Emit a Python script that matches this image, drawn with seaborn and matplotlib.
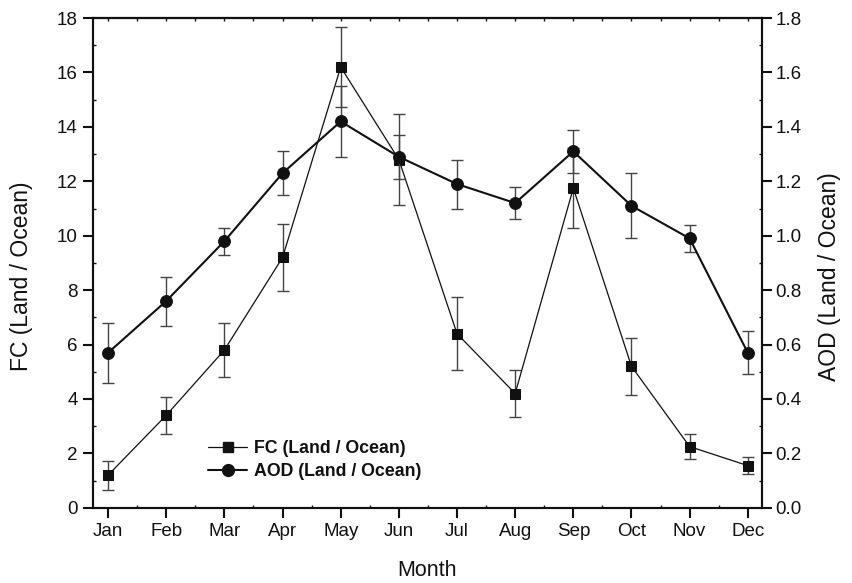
import numpy as np
import pandas as pd
import matplotlib
matplotlib.use("Agg")
import matplotlib.pyplot as plt
import seaborn as sns
from matplotlib.ticker import MultipleLocator, FormatStrFormatter
from matplotlib.lines import Line2D

# data
months = ["Jan", "Feb", "Mar", "Apr", "May", "Jun",
          "Jul", "Aug", "Sep", "Oct", "Nov", "Dec"]
fc = [1.2, 3.4, 5.8, 9.2, 16.2, 12.8, 6.4, 4.2, 11.75, 5.2, 2.25, 1.55]
fc_err = [0.53, 0.68, 0.98, 1.22, 1.47, 1.68, 1.34, 0.85, 1.47, 1.04, 0.45, 0.3]
aod = [0.57, 0.76, 0.98, 1.23, 1.42, 1.29, 1.19, 1.12, 1.31, 1.11, 0.99, 0.57]
aod_err = [0.11, 0.09, 0.05, 0.08, 0.13, 0.08, 0.09, 0.06, 0.08, 0.12, 0.05, 0.08]

df = pd.DataFrame({"idx": np.arange(len(months)), "month": months,
                   "fc": fc, "fc_err": fc_err, "aod": aod, "aod_err": aod_err})

sns.set_style("ticks")
plt.rcParams['font.family'] = ['Liberation Sans', 'DejaVu Sans']
plt.rcParams['font.size'] = 13.5
plt.rcParams['text.color'] = '#111111'
plt.rcParams['axes.labelcolor'] = '#111111'
plt.rcParams['xtick.color'] = '#111111'
plt.rcParams['ytick.color'] = '#111111'

fig, ax = plt.subplots(figsize=(8.53, 5.83), dpi=100)
fig.subplots_adjust(left=0.109, right=0.893, top=0.969, bottom=0.129)

# FC on the left axis
ax.errorbar(df["idx"], df["fc"], yerr=df["fc_err"], fmt="none",
            ecolor="#444444", elinewidth=1, capsize=4, capthick=1, zorder=2)
sns.lineplot(data=df, x="idx", y="fc", ax=ax, color="#111111", lw=0.9,
             marker="s", markersize=7, markeredgecolor="#111111", zorder=3)

# AOD on the right axis
ax2 = ax.twinx()
ax2.errorbar(df["idx"], df["aod"], yerr=df["aod_err"], fmt="none",
             ecolor="#444444", elinewidth=1, capsize=4, capthick=1, zorder=2)
sns.lineplot(data=df, x="idx", y="aod", ax=ax2, color="#111111", lw=1.5,
             marker="o", markersize=8.5, markeredgecolor="#111111", zorder=3)

ax.set_xlim(-0.26, 11.24)
ax.set_ylim(0, 18)
ax2.set_ylim(0, 1.8)

ax.set_xticks(df["idx"])
ax.set_xticklabels(months)
ax.xaxis.set_minor_locator(MultipleLocator(0.5))
ax.yaxis.set_major_locator(MultipleLocator(2))
ax.yaxis.set_minor_locator(MultipleLocator(1))
ax2.yaxis.set_major_locator(MultipleLocator(0.2))
ax2.yaxis.set_minor_locator(MultipleLocator(0.1))
ax2.yaxis.set_major_formatter(FormatStrFormatter("%.1f"))

ax.tick_params(which="major", direction="out", length=7, width=1.5, labelsize=13.5, pad=4)
ax.tick_params(which="minor", direction="in", length=2.5, width=1)
ax2.tick_params(which="major", direction="out", length=7, width=1.5, labelsize=13.5, pad=3)
ax2.tick_params(which="minor", direction="in", length=2.5, width=1)

top = ax.secondary_xaxis("top")
top.set_xticks(np.arange(0, 11.5, 0.5))
top.tick_params(direction="in", length=2.5, width=1, labeltop=False)
top.spines["top"].set_linewidth(1.5)

for a in (ax, ax2):
    for s in a.spines.values():
        s.set_linewidth(1.5)
        s.set_color("#111111")

ax.set_xlabel("Month", fontsize=15.5, labelpad=14)
ax.set_ylabel("FC (Land / Ocean)", fontsize=16.5)
ax2.set_ylabel("AOD (Land / Ocean)", fontsize=16.5)
ax.yaxis.set_label_coords(-0.090, 0.473)
ax2.yaxis.set_label_coords(1.084, 0.473)

handles = [Line2D([], [], color="#111111", lw=0.9, marker="s", markersize=7),
           Line2D([], [], color="#111111", lw=1.5, marker="o", markersize=8.5)]
ax2.legend(handles, ["FC (Land / Ocean)", "AOD (Land / Ocean)"],
           loc="lower left", bbox_to_anchor=(0.148, 0.024), frameon=False,
           prop={"weight": "bold", "size": 12.8}, handlelength=2.2,
           handletextpad=0.4, labelspacing=0.35)

fig.savefig("out.png", dpi=100)
